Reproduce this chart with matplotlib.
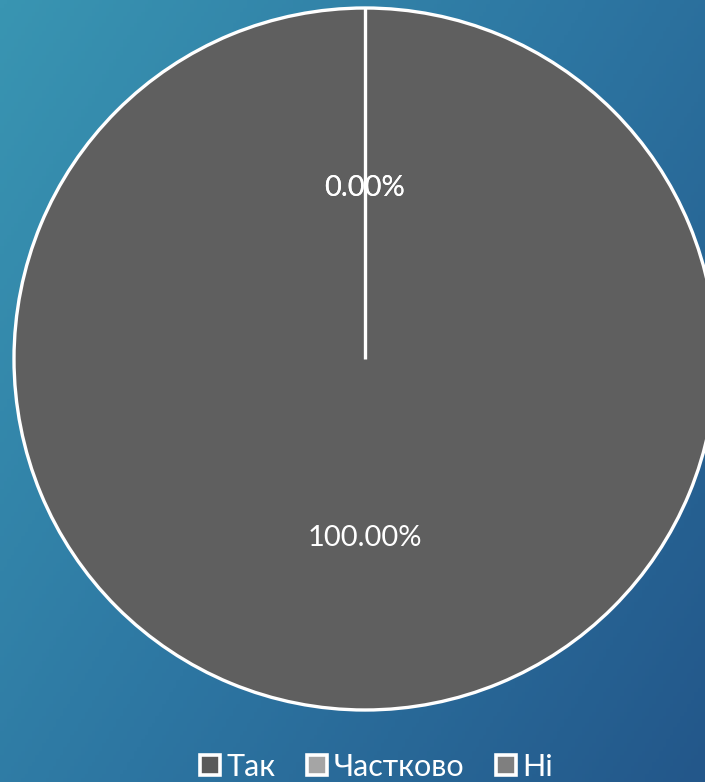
import matplotlib
matplotlib.use('Agg')
import matplotlib.pyplot as plt
from matplotlib.colors import LinearSegmentedColormap
from matplotlib.lines import Line2D
import numpy as np

# data
labels = ['Так', 'Частково', 'Ні']
values = [0, 0, 100]
pie_colors = ['#5a5a5a', '#a5a5a5', '#5f5f5f']
legend_colors = ['#5a5a5a', '#a5a5a5', '#7f7f7f']

plt.rcParams['font.family'] = ['Lato', 'DejaVu Sans']

W, H = 705, 782
fig = plt.figure(figsize=(W / 100, H / 100), dpi=100)

# background gradient (diagonal, teal -> deep blue)
bg = fig.add_axes([0, 0, 1, 1], zorder=0)
bg.axis('off')
yy, xx = np.mgrid[0:1:200j, 0:1:200j]
grad = (xx * 0.6 + yy * 0.4)
cmap = LinearSegmentedColormap.from_list('bg', ['#3995b2', '#2d76a2', '#23578a'])
bg.imshow(grad, cmap=cmap, aspect='auto', extent=[0, 1, 0, 1], origin='upper')

ax = fig.add_axes([0, 0, 1, 1], zorder=1)
ax.set_facecolor('none')
wedges, texts, autotexts = ax.pie(
    values, colors=pie_colors, startangle=90, counterclock=False,
    center=(365, H - 359), radius=351, autopct='%.2f%%', pctdistance=0.5,
    wedgeprops=dict(edgecolor='white', linewidth=2.4),
    textprops=dict(color='white', fontsize=21), frame=True)
for t in autotexts:
    x, y = t.get_position()
    t.set_position((x, y - 4))

# radial boundary of the zero-size slices (full wedge draws no radial edge)
w0 = wedges[0]
cx, cy = w0.center
ang = np.deg2rad(w0.theta2)
ax.plot([cx, cx + w0.r * np.cos(ang)], [cy, cy + w0.r * np.sin(ang)],
        color='white', lw=2.4, solid_capstyle='butt', zorder=3)
ax.set_xlim(0, W)
ax.set_ylim(0, H)
ax.axis('off')

handles = [Line2D([0], [0], marker='s', linestyle='none', markersize=14,
                  markerfacecolor=c, markeredgecolor='white', markeredgewidth=2.6)
           for c in legend_colors]
fig.legend(handles, labels, loc='center', bbox_to_anchor=(376 / W, 15 / H), ncol=3,
           frameon=False, fontsize=22, labelcolor='white', handlelength=0.7,
           handletextpad=0.2, columnspacing=1.0, borderpad=0)

fig.savefig('out.png', dpi=100)
